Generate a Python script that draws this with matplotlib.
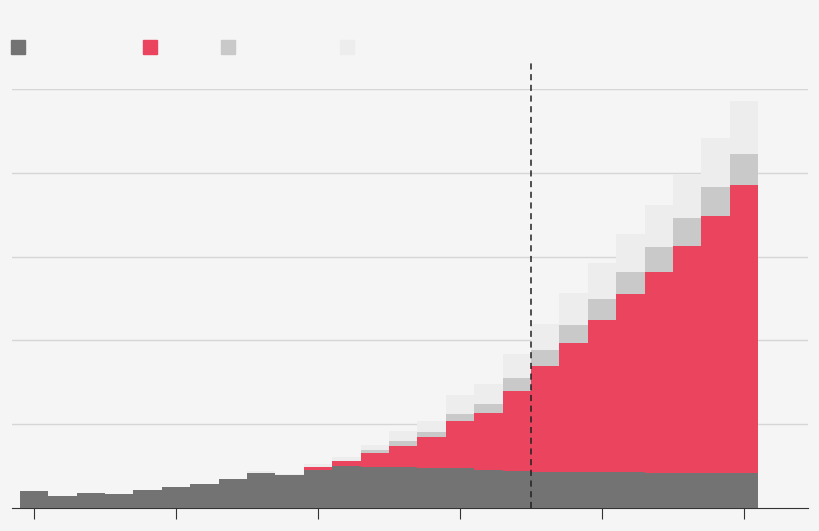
import matplotlib
matplotlib.use("Agg")
import matplotlib.pyplot as plt
import numpy as np

gray = [.20,.14,.18,.17,.21,.25,.29,.35,.42,.39,.45,.50,.49,.49,.48,.48,.45,.44,.43,.43,.43,.43,.42,.42,.42,.42]
red = [0,0,0,0,0,0,0,0,0,0,.04,.06,.17,.25,.37,.56,.68,.96,1.26,1.54,1.81,2.12,2.40,2.71,3.06,3.44]
lgray = [0,0,0,0,0,0,0,0,0,0,0,0,.03,.06,.06,.08,.11,.15,.19,.21,.25,.27,.30,.33,.35,.37]
lightest = [0,0,0,0,0,0,0,0,.02,.02,.03,.05,.06,.12,.13,.23,.24,.29,.32,.38,.43,.45,.50,.52,.58,.63]
colors = ["#737373", "#eb445e", "#c9c9c9", "#ededed"]
bg = "#f5f5f5"

W, H = 820, 531
fig = plt.figure(figsize=(W/100, H/100), dpi=100, facecolor=bg)
ax = fig.add_axes([12/W, 1-508/H, (808-12)/W, (508-89)/H], facecolor=bg)
x = np.arange(len(gray))
bottom = np.zeros(len(gray))
for vals, c in zip([gray, red, lgray, lightest], colors):
    ax.bar(x, vals, width=1.0, bottom=bottom, color=c, linewidth=0, zorder=3)
    bottom += np.array(vals)
ax.set_xlim(-0.775, 27.25)
ax.set_ylim(0, 5)
ax.set_yticks([1, 2, 3, 4, 5])
ax.yaxis.grid(True, color="#d6d6d6", linewidth=1, zorder=0)
ax.tick_params(axis="y", length=0, labelleft=False)
ax.set_xticks([0, 5, 10, 15, 20, 25])
ax.tick_params(axis="x", direction="out", length=8, color="#333333", labelbottom=False)
for s in ["top", "right", "left"]:
    ax.spines[s].set_visible(False)
ax.spines["bottom"].set_color("#333333")
ax.axvline(17.5, color="#222222", linestyle=(0, (4, 3)), linewidth=1.1, ymin=0, ymax=1.07, clip_on=False, zorder=4)

for px, c in zip([18, 150, 228, 347], colors):
    fig.patches.append(plt.Rectangle(((px-7)/W, 1-54/H), 14/W, 14/H, transform=fig.transFigure, color=c))

fig.savefig("out.png", dpi=100, facecolor=bg)
